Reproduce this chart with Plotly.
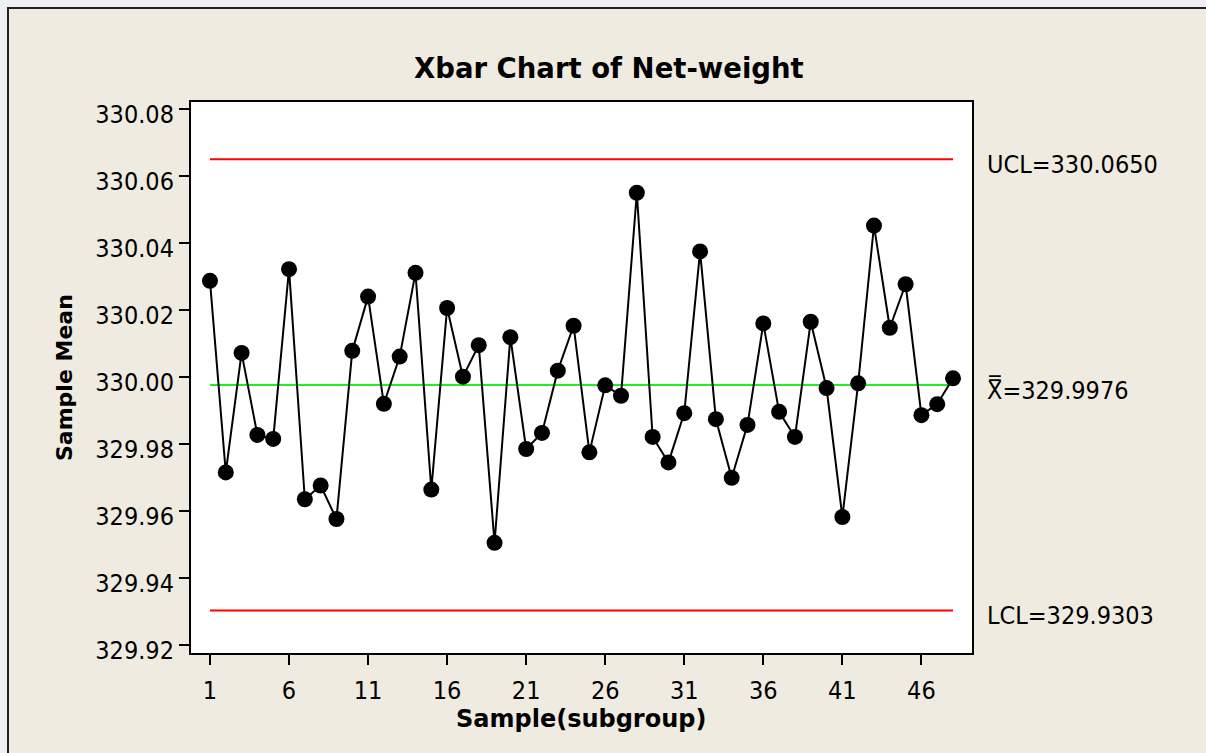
import plotly.graph_objects as go

# ---- data ----
samples = list(range(1, 49))
sample_means = [
    330.0287, 329.9715, 330.0072, 329.9827, 329.9815, 330.0322, 329.9635, 329.9676,
    329.9576, 330.0078, 330.0240, 329.9920, 330.0061, 330.0311, 329.9664, 330.0206,
    330.0001, 330.0095, 329.9505, 330.0119, 329.9785, 329.9833, 330.0019, 330.0153,
    329.9775, 329.9975, 329.9944, 330.0550, 329.9821, 329.9745, 329.9892, 330.0375,
    329.9874, 329.9699, 329.9857, 330.0160, 329.9896, 329.9821, 330.0165, 329.9967,
    329.9582, 329.9981, 330.0452, 330.0147, 330.0277, 329.9886, 329.9919, 329.9996,
]
UCL = 330.0650
CL = 329.9976
LCL = 329.9303
ucl_label = "UCL=330.0650"
cl_label = "X\u033f=329.9976"
lcl_label = "LCL=329.9303"
x_ticks = [1, 6, 11, 16, 21, 26, 31, 36, 41, 46]
y_ticks = [329.92, 329.94, 329.96, 329.98, 330.00, 330.02, 330.04, 330.06, 330.08]

# ---- layout geometry ----
W, H = 1206, 753
L, R, T, B = 191, 972, 102, 653
PW, PH = R - L, B - T


def px(xp):
    return (xp - L) / PW


def py(yp):
    return (B - yp) / PH


BEIGE = "#EFEBE0"
GREY = "#EEF0F2"
FONT = "DejaVu Sans Condensed, Liberation Sans, Arial, sans-serif"
BFONT = "DejaVu Sans, Liberation Sans, sans-serif"

fig = go.Figure()

x_ends = [samples[0], samples[-1]]
fig.add_trace(go.Scatter(x=x_ends, y=[UCL, UCL], mode="lines",
                         line=dict(color="#FF0000", width=2), showlegend=False))
fig.add_trace(go.Scatter(x=x_ends, y=[LCL, LCL], mode="lines",
                         line=dict(color="#FF0000", width=2), showlegend=False))
fig.add_trace(go.Scatter(x=x_ends, y=[CL, CL], mode="lines",
                         line=dict(color="#22EE22", width=2), showlegend=False))
fig.add_trace(go.Scatter(x=samples, y=sample_means, mode="lines+markers",
                         line=dict(color="black", width=2),
                         marker=dict(color="black", size=16),
                         showlegend=False))

shapes = [
    dict(type="rect", xref="paper", yref="paper", x0=px(-20), x1=px(W + 20),
         y0=py(7), y1=py(-20), fillcolor=GREY, line=dict(width=0)),
    dict(type="rect", xref="paper", yref="paper", x0=px(-20), x1=px(7),
         y0=py(H + 20), y1=py(-20), fillcolor=GREY, line=dict(width=0)),
    dict(type="rect", xref="paper", yref="paper", x0=px(8), x1=px(W + 20),
         y0=py(H + 20), y1=py(8), fillcolor="rgba(0,0,0,0)",
         line=dict(color="#222222", width=2)),
]

annotations = [
    dict(text="<b>Xbar Chart of Net-weight</b>", xref="paper", yref="paper",
         x=px(609), y=py(68), xanchor="center", yanchor="middle", showarrow=False,
         font=dict(family=BFONT, size=27.5, color="black")),
    dict(text="<b>Sample Mean</b>", xref="paper", yref="paper", textangle=-90,
         x=px(64), y=py(378), xanchor="center", yanchor="middle", showarrow=False,
         font=dict(family=BFONT, size=22, color="black")),
    dict(text="<b>Sample(subgroup)</b>", xref="paper", yref="paper",
         x=px(581), y=py(719), xanchor="center", yanchor="middle", showarrow=False,
         font=dict(family=BFONT, size=24, color="black")),
]
for val, lab in [(UCL, ucl_label), (CL, cl_label), (LCL, lcl_label)]:
    annotations.append(dict(text=lab, xref="paper", yref="y", x=px(985), y=val,
                            xanchor="left", yanchor="middle", yshift=-5,
                            showarrow=False,
                            font=dict(family=FONT, size=25, color="black")))

fig.update_layout(
    width=W, height=H,
    margin=dict(l=L, r=W - R, t=T, b=H - B, pad=0),
    paper_bgcolor=BEIGE, plot_bgcolor="white",
    shapes=shapes, annotations=annotations,
    font=dict(family=FONT, size=25, color="black"),
    xaxis=dict(range=[-0.2, 49.2], tickvals=x_ticks, ticktext=[str(v) for v in x_ticks],
               ticks="outside", ticklen=10, tickwidth=2, tickcolor="black",
               ticklabelstandoff=4,
               showline=True, linecolor="black", linewidth=2, mirror=True,
               showgrid=False, zeroline=False,
               tickfont=dict(family=FONT, size=25, color="black")),
    yaxis=dict(range=[329.9176, 330.0821], tickvals=y_ticks,
               ticktext=[f"{v:.2f}" for v in y_ticks],
               ticks="outside", ticklen=10, tickwidth=2, tickcolor="black",
               ticklabelshift=5,
               showline=True, linecolor="black", linewidth=2, mirror=True,
               showgrid=False, zeroline=False,
               tickfont=dict(family=FONT, size=25, color="black")),
)

fig.write_html("out.html")
